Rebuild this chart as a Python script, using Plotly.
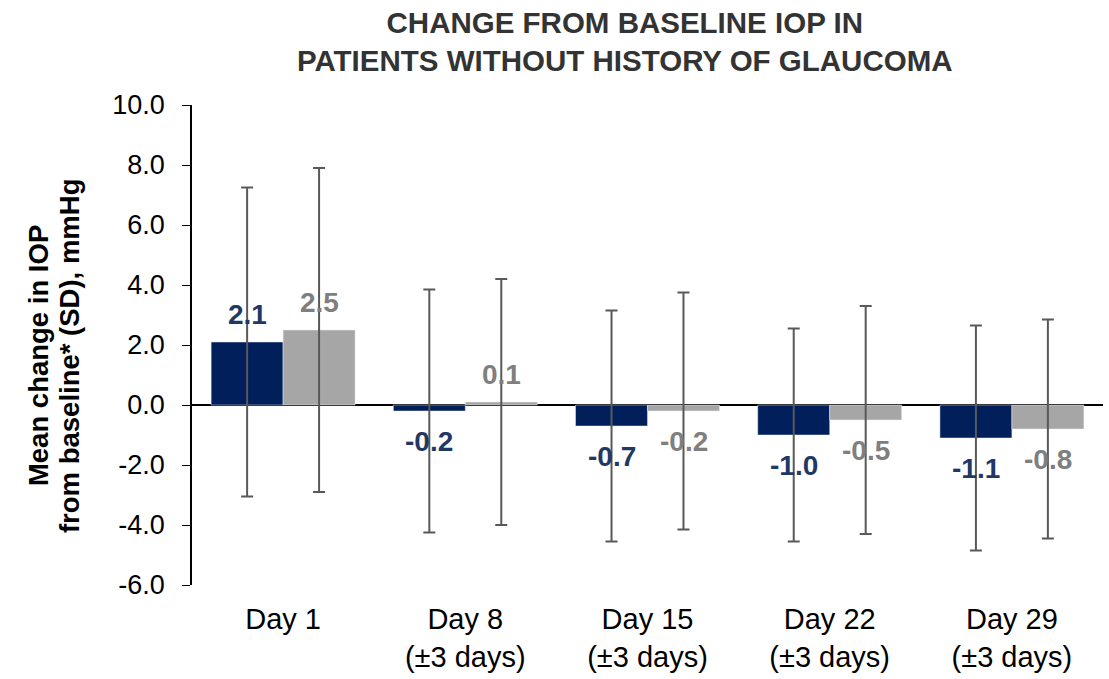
import plotly.graph_objects as go

categories = ["Day 1", "Day 8<br>(±3 days)", "Day 15<br>(±3 days)", "Day 22<br>(±3 days)", "Day 29<br>(±3 days)"]
navy_vals = [2.1, -0.2, -0.7, -1.0, -1.1]
grey_vals = [2.5, 0.1, -0.2, -0.5, -0.8]
navy_sd = [5.15, 4.05, 3.85, 3.55, 3.75]
grey_sd = [5.4, 4.1, 3.95, 3.8, 3.65]
y_ticks = [-6, -4, -2, 0, 2, 4, 6, 8, 10]
y_tick_labels = ["-6.0", "-4.0", "-2.0", "0.0", "2.0", "4.0", "6.0", "8.0", "10.0"]
y_title_lines = ["Mean change in IOP", "from baseline* (SD), mmHg"]

NAVY = "#001F5B"
NAVY_TXT = "#1F3864"
GREY = "#A6A6A6"
GREY_TXT = "#7F7F7F"
ERR = "#595959"
FONT = "Liberation Sans, Arial"

fig = go.Figure()
fig.add_trace(go.Bar(
    x=categories, y=navy_vals, marker_color=NAVY, name="A",
    error_y=dict(type="data", array=navy_sd, color=ERR, thickness=2, width=6),
))
fig.add_trace(go.Bar(
    x=categories, y=grey_vals, marker_color=GREY, name="B",
    error_y=dict(type="data", array=grey_sd, color=ERR, thickness=2, width=6),
))

for vals, col, xs in [(navy_vals, NAVY_TXT, -36), (grey_vals, GREY_TXT, 36)]:
    for c, v in zip(categories, vals):
        fig.add_annotation(
            x=c, y=v, text=f"<b>{v:.1f}</b>", showarrow=False,
            xshift=xs, yshift=28 if v > 0 else -30,
            font=dict(family=FONT, size=28, color=col),
        )

fig.add_annotation(
    xref="paper", yref="paper", x=0.475, y=1, yshift=26,
    xanchor="center", yanchor="bottom", showarrow=False,
    text="<b>CHANGE FROM BASELINE IOP IN<br>PATIENTS WITHOUT HISTORY OF GLAUCOMA</b>",
    font=dict(family=FONT, size=29.5, color="#333333"),
)

for xp, line in zip([-0.169, -0.135], y_title_lines):
    fig.add_annotation(
        xref="paper", yref="paper", x=xp, y=0.477,
        xanchor="center", yanchor="middle", showarrow=False, textangle=-90,
        text=f"<b>{line}</b>",
        font=dict(family=FONT, size=27.5, color="#000000"),
    )

fig.update_layout(
    width=1109, height=679,
    margin=dict(l=192, r=6, t=105, b=92),
    paper_bgcolor="white", plot_bgcolor="white",
    showlegend=False,
    barmode="group", bargap=0.21, bargroupgap=0,
    font=dict(family=FONT, color="#000000"),
)
fig.update_xaxes(
    showline=False, showgrid=False, ticks="",
    tickfont=dict(size=29, color="#000000"),
    ticklabelstandoff=14,
)
fig.update_yaxes(
    range=[-6, 10], tickvals=y_ticks, ticktext=y_tick_labels,
    showgrid=False, showline=True, linecolor="#000000", linewidth=1.5,
    ticks="outside", ticklen=8, tickcolor="#000000",
    zeroline=True, zerolinecolor="#000000", zerolinewidth=2,
    tickfont=dict(size=27, color="#000000"),
    ticklabelstandoff=12,
)

fig.write_html(
    "out.html",
    config={"displayModeBar": False},
    post_script="document.body.style.margin='0';document.body.style.overflow='hidden';",
)
